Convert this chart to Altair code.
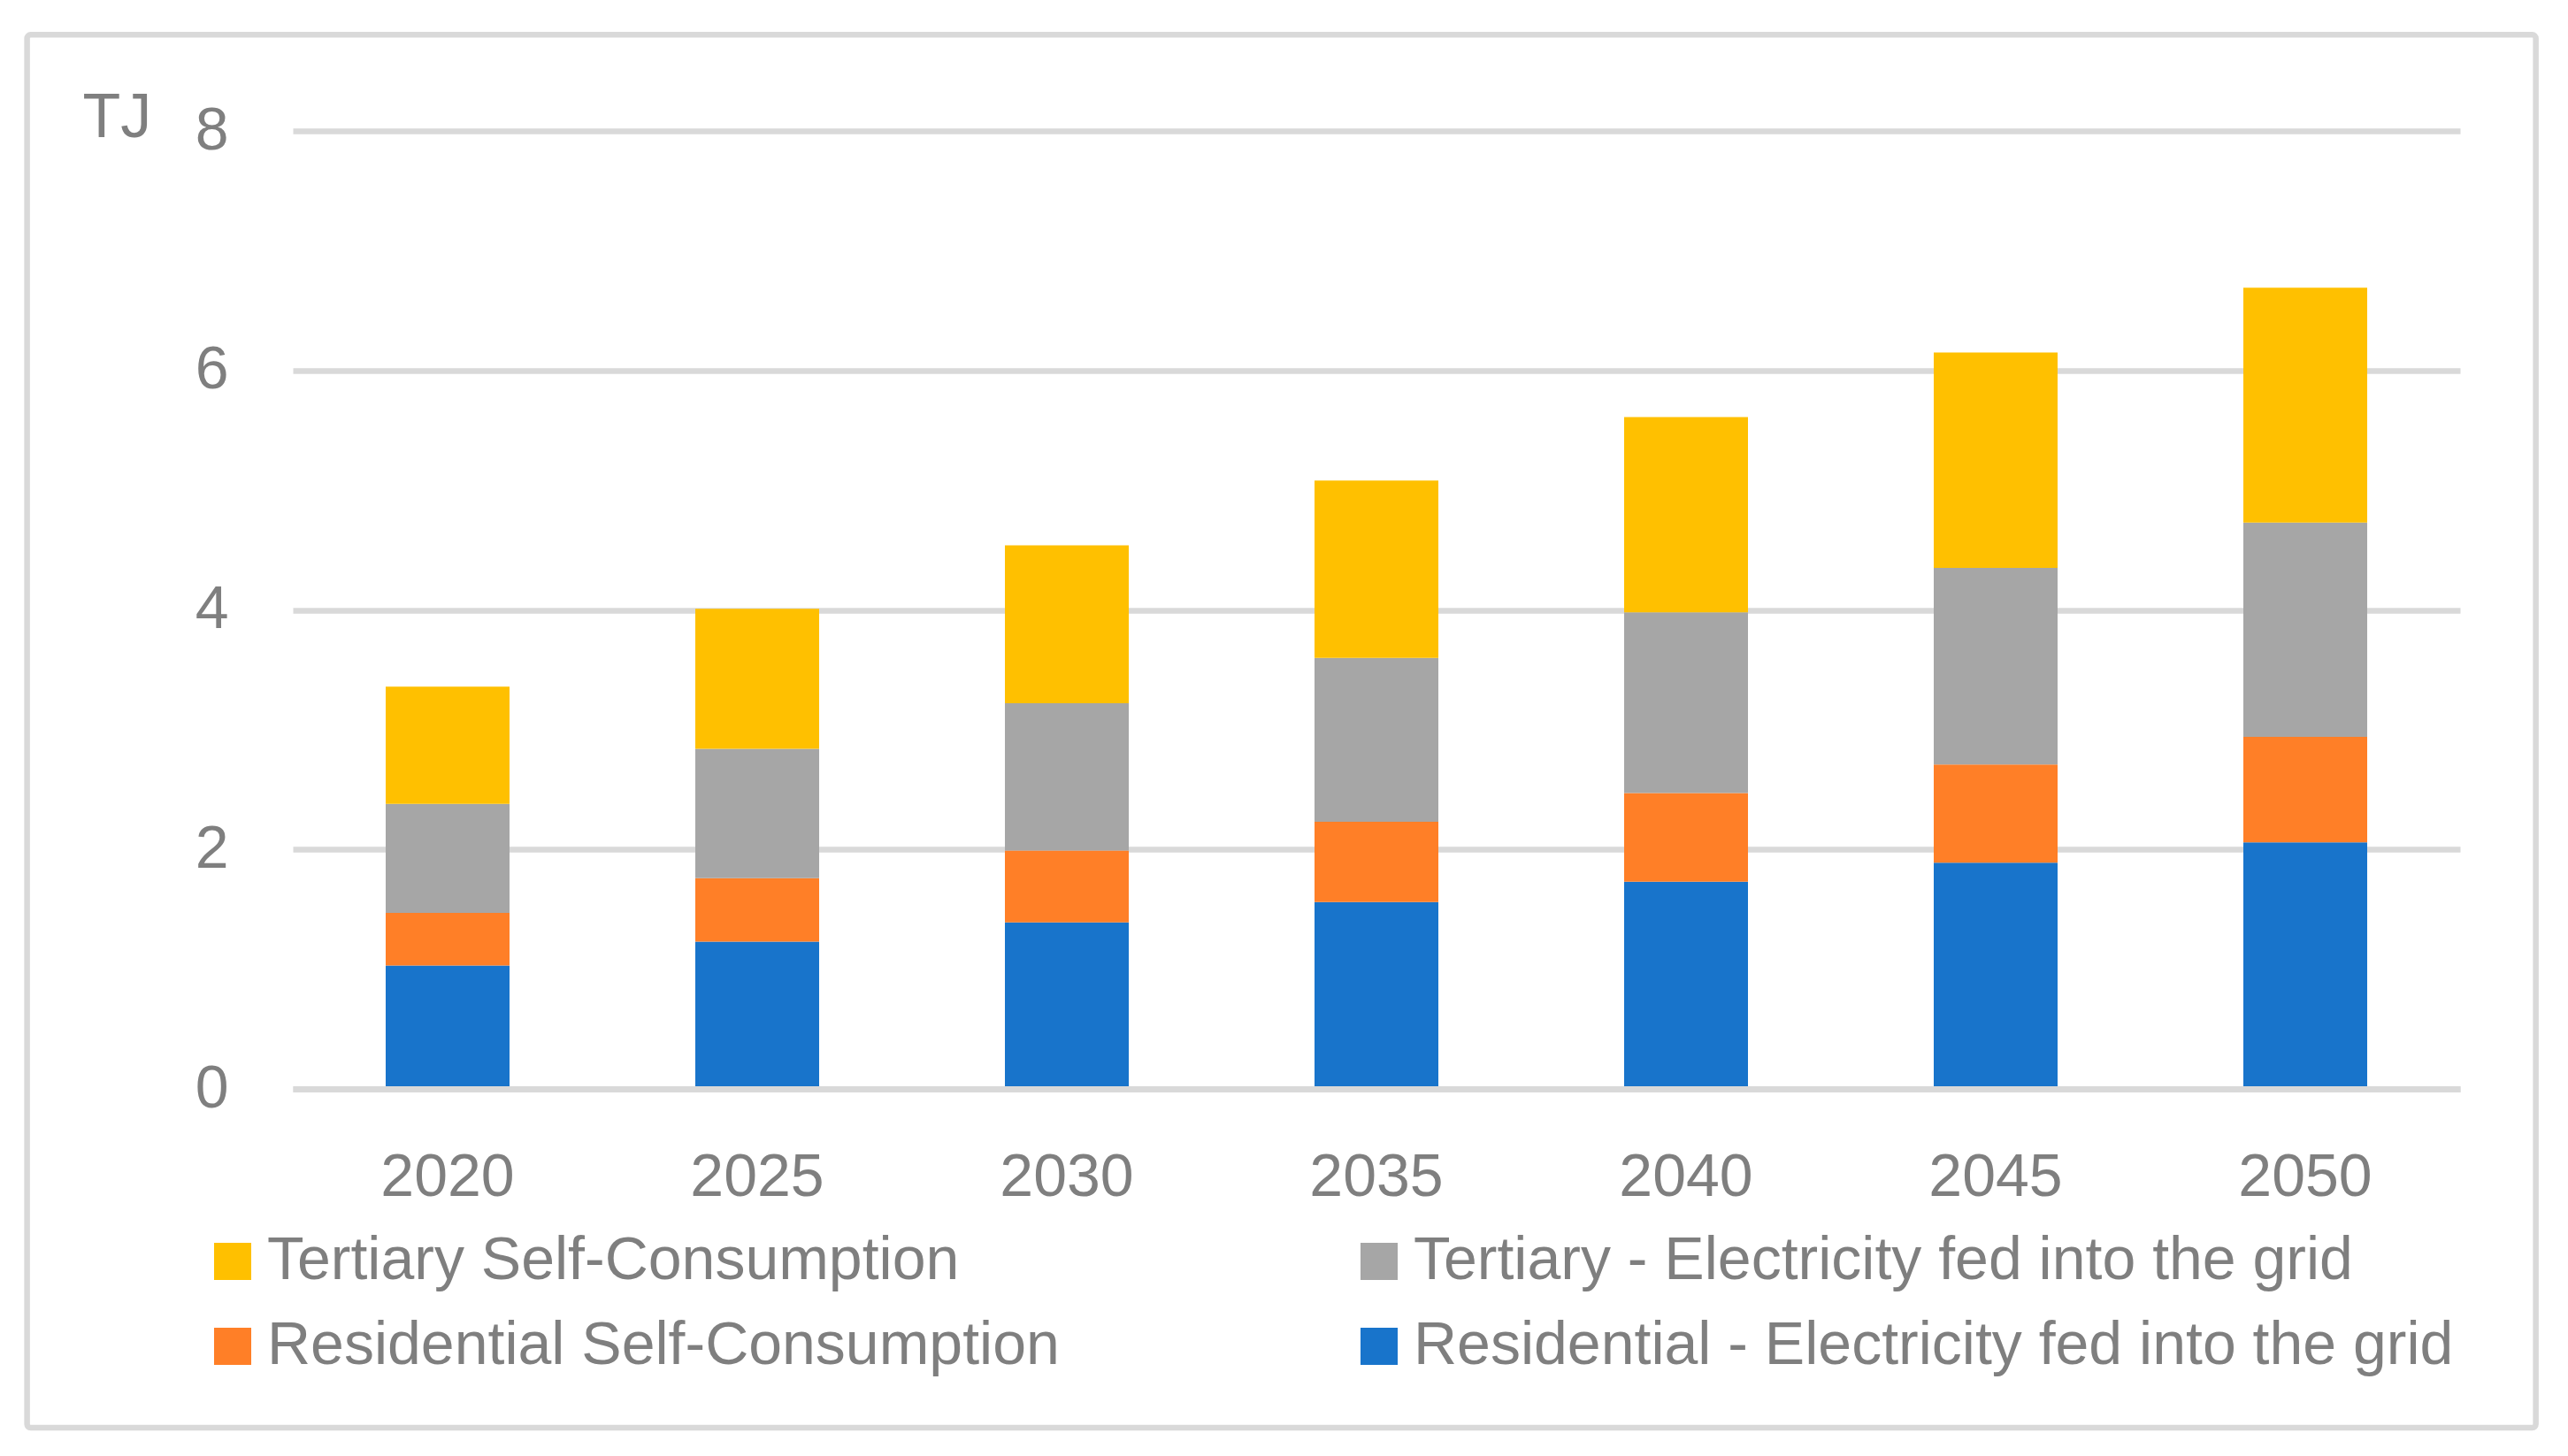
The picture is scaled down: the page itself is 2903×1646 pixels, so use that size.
import altair as alt
import pandas as pd

years = ["2020", "2025", "2030", "2035", "2040", "2045", "2050"]
series = [
    "Tertiary Self-Consumption",
    "Residential Self-Consumption",
    "Tertiary - Electricity fed into the grid",
    "Residential - Electricity fed into the grid",
]
colors = ["#FFC000", "#FF7F27", "#A6A6A6", "#1874CB"]

res_grid = [1.03, 1.23, 1.39, 1.56, 1.73, 1.89, 2.06]
res_self = [0.44, 0.53, 0.60, 0.67, 0.74, 0.82, 0.88]
ter_grid = [0.91, 1.08, 1.23, 1.37, 1.51, 1.64, 1.79]
ter_self = [0.98, 1.17, 1.32, 1.48, 1.63, 1.80, 1.96]

stack = [
    ("Residential - Electricity fed into the grid", res_grid, 0),
    ("Residential Self-Consumption", res_self, 1),
    ("Tertiary - Electricity fed into the grid", ter_grid, 2),
    ("Tertiary Self-Consumption", ter_self, 3),
]
rows = []
for name, vals, o in stack:
    for y, v in zip(years, vals):
        rows.append({"year": y, "series": name, "value": v, "ord": o})
df = pd.DataFrame(rows)

FONT = "Liberation Sans"
TXT = "#7F7F7F"
GRID = "#D9D9D9"

bars = alt.Chart(df).mark_bar().encode(
    x=alt.X("year:O", title=None, sort=years,
            scale=alt.Scale(paddingInner=0.6, paddingOuter=0.3),
            axis=alt.Axis(labelAngle=0, labelFontSize=68, labelFont=FONT,
                          labelColor=TXT, labelPadding=66, ticks=False,
                          tickSize=0, domain=True, domainColor=GRID,
                          domainWidth=7, zindex=1, grid=False)),
    y=alt.Y("value:Q", title="TJ", stack="zero",
            scale=alt.Scale(domain=[0, 8], nice=False),
            axis=alt.Axis(values=[0, 2, 4, 6, 8], labelFontSize=68,
                          labelFont=FONT, labelColor=TXT, labelPadding=73,
                          ticks=False, tickSize=0, domain=False, grid=True,
                          gridColor=GRID, gridWidth=6.5,
                          titleAngle=0, titleAlign="left",
                          titleBaseline="alphabetic", titleX=-238, titleY=6,
                          titleFont=FONT, titleFontSize=70,
                          titleFontWeight="normal", titleColor=TXT)),
    color=alt.Color("series:N", scale=alt.Scale(domain=series, range=colors),
                    legend=alt.Legend(title=None, orient="none", legendX=-102,
                                      legendY=1244, columns=2,
                                      columnPadding=327, rowPadding=28,
                                      symbolType="square", symbolSize=1764,
                                      symbolStrokeWidth=0, labelFont=FONT,
                                      labelFontSize=68, labelColor=TXT,
                                      labelOffset=5, labelLimit=3000,
                                      padding=0)),
    order=alt.Order("ord:Q", sort="ascending"),
)

frame = alt.Chart(pd.DataFrame({"a": [0]})).mark_rect(
    fillOpacity=0, stroke=GRID, strokeWidth=6.5, cornerRadius=4
).encode(
    x=alt.value(-300.4), x2=alt.value(2535.6),
    y=alt.value(-108.7), y2=alt.value(1466)
)

chart = alt.layer(frame, bars).properties(
    width=2450, height=1083,
    padding={"left": 323, "top": 140, "right": 100, "bottom": 400},
    autosize=alt.AutoSizeParams(type="none"),
    background="white",
).configure_view(strokeWidth=0)

chart.save("out.html", embed_options={"renderer": "svg", "actions": False})
